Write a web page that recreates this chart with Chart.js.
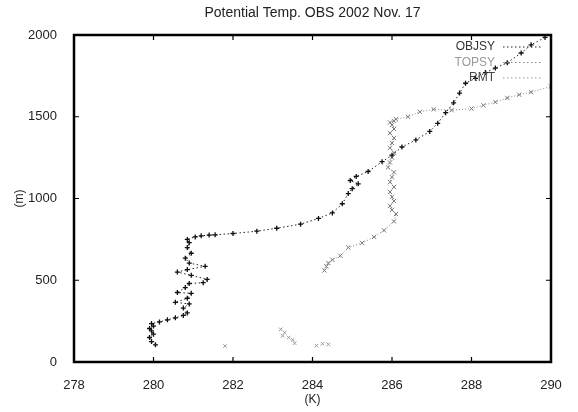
<!DOCTYPE html>
<html>
<head>
<meta charset="utf-8">
<script src="https://cdn.jsdelivr.net/npm/chart.js@4.4.1/dist/chart.umd.min.js"></script>
<style>
  html, body { margin: 0; padding: 0; background: #fff; }
</style>
</head>
<body>
<canvas id="chart" width="578" height="412"></canvas>
<script>
const titleText = "Potential Temp. OBS 2002 Nov. 17";
const seriesNames = ["OBJSY", "TOPSY", "RMT"];

// potential temperature (K) and height (m), sonde 1
const objTemp = [280.05, 279.95, 279.9, 280.0, 279.95, 279.9, 280.0, 279.95, 280.15, 280.35,
  280.55, 280.75, 280.85, 280.75, 280.9, 280.55, 280.85, 280.95, 280.6, 280.8,
  280.9, 281.25, 281.35, 280.95, 280.6, 280.85, 281.3, 280.9, 280.8, 280.95,
  280.85, 280.9, 280.85, 281.05, 281.2, 281.4, 281.55, 282.0, 282.6, 283.1,
  283.7, 284.15, 284.5, 284.75, 284.9, 285.0, 285.15, 284.95, 285.1, 285.4,
  285.75, 286.0, 286.25, 286.6, 286.95, 287.15, 287.35, 287.55, 287.7, 287.85,
  288.1, 288.35, 288.6, 288.9, 289.25, 289.5, 289.85];
const objHeight = [105, 125, 150, 170, 190, 205, 220, 235, 245, 258,
  270, 285, 300, 330, 355, 365, 390, 420, 425, 455,
  480, 485, 505, 530, 550, 565, 585, 605, 635, 665,
  700, 730, 750, 765, 772, 776, 778, 786, 800, 818,
  843, 878, 912, 968, 1030, 1060, 1090, 1110, 1135, 1165,
  1225, 1265, 1315, 1358, 1410, 1460, 1525, 1585, 1645, 1705,
  1735, 1770, 1798, 1830, 1890, 1940, 1985];

// sonde 2
const topTemp = [284.3, 284.35, 284.4, 284.5, 284.7, 284.9, 285.25, 285.55, 285.8, 286.05,
  286.1, 286.0, 285.95, 286.05, 286.0, 285.95, 286.05, 285.95, 286.0, 286.05,
  285.9, 285.95, 286.0, 286.05, 285.95, 286.0, 286.05, 285.95, 286.05, 286.0,
  285.95, 286.05, 286.1, 286.4, 286.7, 287.05, 287.5, 288.0, 288.3, 288.6,
  288.9, 289.2, 289.5, 290.0];
const topHeight = [560, 585, 605, 625, 650, 700, 728, 765, 805, 860,
  905, 930, 955, 985, 1010, 1040, 1070, 1100, 1130, 1160,
  1190, 1220, 1250, 1280, 1310, 1340, 1370, 1400, 1425, 1450,
  1465, 1475, 1485, 1500, 1530, 1545, 1540, 1550, 1570, 1590,
  1615, 1635, 1650, 1685];

// surface points
const rmtTemp = [281.8, 283.2, 283.3, 283.25, 283.4, 283.5, 283.55, 284.1, 284.25, 284.4];
const rmtHeight = [98, 200, 180, 160, 150, 135, 115, 100, 112, 108];

function toPoints(xs, ys) {
  return xs.map((x, i) => ({ x: x, y: ys[i] }));
}

const fontFamily = "'Liberation Sans', Arial, sans-serif";
const textColor = "#222";

// frame with inward ticks, gnuplot style
const framePlugin = {
  id: "frame",
  afterDatasetsDraw(chart) {
    const { ctx, chartArea: a, scales } = chart;
    ctx.save();
    ctx.strokeStyle = "#000";
    ctx.lineWidth = 1.2;
    ctx.beginPath();
    for (const v of scales.x.ticks.map((t) => t.value)) {
      const px = scales.x.getPixelForValue(v);
      ctx.moveTo(px, a.bottom); ctx.lineTo(px, a.bottom - 5);
      ctx.moveTo(px, a.top); ctx.lineTo(px, a.top + 5);
    }
    for (const v of scales.y.ticks.map((t) => t.value)) {
      const py = scales.y.getPixelForValue(v);
      ctx.moveTo(a.left, py); ctx.lineTo(a.left + 5, py);
      ctx.moveTo(a.right, py); ctx.lineTo(a.right - 5, py);
    }
    ctx.stroke();
    ctx.lineWidth = 2.5;
    ctx.strokeRect(a.left, a.top, a.right - a.left, a.bottom - a.top);
    ctx.restore();
  },
};

// key inside the top right corner, labels right aligned
const keyPlugin = {
  id: "key",
  afterDraw(chart) {
    const { ctx, chartArea: a } = chart;
    ctx.save();
    ctx.font = "12px " + fontFamily;
    ctx.textAlign = "right";
    ctx.textBaseline = "middle";
    chart.data.datasets.forEach((ds, i) => {
      const y = a.top + 12 + i * 15.5;
      const xText = a.right - 56;
      ctx.fillStyle = ds.keyColor;
      ctx.fillText(ds.label, xText, y);
      ctx.strokeStyle = ds.borderColor;
      ctx.lineWidth = 1;
      ctx.setLineDash([1.5, 2.5]);
      ctx.beginPath();
      ctx.moveTo(a.right - 48, y);
      ctx.lineTo(a.right - 8, y);
      ctx.stroke();
    });
    ctx.restore();
  },
};

new Chart(document.getElementById("chart"), {
  type: "scatter",
  data: {
    datasets: [
      {
        label: seriesNames[0],
        data: toPoints(objTemp, objHeight),
        showLine: true,
        borderColor: "#222",
        borderWidth: 1,
        borderDash: [1.5, 2.5],
        pointStyle: "cross",
        pointRadius: 2.5,
        pointBorderWidth: 1.3,
        pointBorderColor: "#111",
        keyColor: "#333",
      },
      {
        label: seriesNames[1],
        data: toPoints(topTemp, topHeight),
        showLine: true,
        borderColor: "#888",
        borderWidth: 1,
        borderDash: [1, 2],
        pointStyle: "crossRot",
        pointRadius: 3,
        pointBorderWidth: 1,
        pointBorderColor: "#777",
        keyColor: "#999",
      },
      {
        label: seriesNames[2],
        data: toPoints(rmtTemp, rmtHeight),
        showLine: false,
        borderColor: "#999",
        pointStyle: "crossRot",
        pointRadius: 2.5,
        pointBorderWidth: 1,
        pointBorderColor: "#999",
        keyColor: "#444",
      },
    ],
  },
  options: {
    responsive: false,
    animation: false,
    layout: { padding: { left: 0, right: 27, top: 0, bottom: 0 } },
    plugins: {
      legend: { display: false },
      tooltip: { enabled: false },
      title: {
        display: true,
        text: titleText,
        fullSize: false,
        color: textColor,
        font: { family: fontFamily, size: 14, weight: "normal" },
        padding: { top: 5, bottom: 13.2 },
      },
    },
    scales: {
      x: {
        type: "linear",
        min: 278,
        max: 290,
        grid: { display: false },
        border: { display: false },
        ticks: {
          stepSize: 2,
          padding: 8,
          color: textColor,
          font: { family: fontFamily, size: 13 },
        },
        title: {
          display: true,
          text: "(K)",
          color: textColor,
          font: { family: fontFamily, size: 12 },
          padding: { top: 0, bottom: 5 },
        },
        afterFit(scale) { scale.height = 50; },
      },
      y: {
        type: "linear",
        min: 0,
        max: 2000,
        grid: { display: false },
        border: { display: false },
        ticks: {
          stepSize: 500,
          padding: 9,
          color: textColor,
          font: { family: fontFamily, size: 13 },
          callback: (value) => String(value),
        },
        title: {
          display: true,
          text: "(m)",
          color: textColor,
          font: { family: fontFamily, size: 12 },
          padding: { top: 12, bottom: 0 },
        },
        afterFit(scale) { scale.width = 74; },
      },
    },
  },
  plugins: [framePlugin, keyPlugin],
});
</script>
</body>
</html>
